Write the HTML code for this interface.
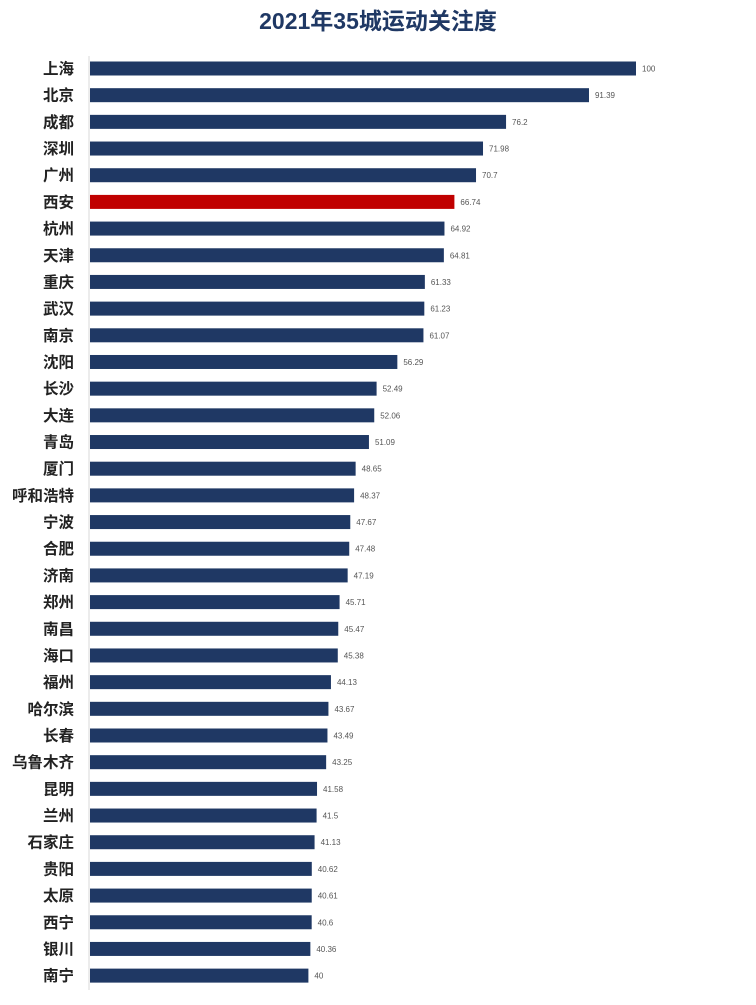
<!DOCTYPE html>
<html><head><meta charset="utf-8"><style>
body{margin:0;background:#fff;width:756px;height:1000px;overflow:hidden}
svg{font-family:"Liberation Sans","Noto Sans CJK SC",sans-serif}
</style></head><body>
<svg id="chart" width="756" height="1000">
<text x="378" y="29" text-anchor="middle" font-size="23" font-weight="bold" fill="#1f3864">2021年35城运动关注度</text>
<line x1="89" y1="56" x2="89" y2="990" stroke="#d9d9d9" stroke-width="1"/>
<g id="bars"></g>
</svg>
<script>
const categories=["上海","北京","成都","深圳","广州","西安","杭州","天津","重庆","武汉","南京","沈阳","长沙","大连","青岛","厦门","呼和浩特","宁波","合肥","济南","郑州","南昌","海口","福州","哈尔滨","长春","乌鲁木齐","昆明","兰州","石家庄","贵阳","太原","西宁","银川","南宁"];
const values=[100,91.39,76.2,71.98,70.7,66.74,64.92,64.81,61.33,61.23,61.07,56.29,52.49,52.06,51.09,48.65,48.37,47.67,47.48,47.19,45.71,45.47,45.38,44.13,43.67,43.49,43.25,41.58,41.5,41.13,40.62,40.61,40.6,40.36,40];
const valueLabels=["100","91.39","76.2","71.98","70.7","66.74","64.92","64.81","61.33","61.23","61.07","56.29","52.49","52.06","51.09","48.65","48.37","47.67","47.48","47.19","45.71","45.47","45.38","44.13","43.67","43.49","43.25","41.58","41.5","41.13","40.62","40.61","40.6","40.36","40"];
const highlight="西安";
const x0=90, xScale=v=>x0+v*5.46;
const yC=i=>68.5+i*26.68;
const g=document.getElementById('bars');
const NS="http://www.w3.org/2000/svg";
categories.forEach((c,i)=>{
  const y=yC(i);
  const t=document.createElementNS(NS,'text');
  t.setAttribute('x',74);t.setAttribute('y',y+5.5);t.setAttribute('text-anchor','end');
  t.setAttribute('font-size','15.5');t.setAttribute('font-weight','bold');t.setAttribute('fill','#222');
  t.textContent=c;
  
  
  g.appendChild(t);
  const r=document.createElementNS(NS,'rect');
  r.setAttribute('x',x0);r.setAttribute('y',y-7);r.setAttribute('height',14);
  r.setAttribute('width',xScale(values[i])-x0);
  r.setAttribute('fill',c===highlight?'#c00000':'#1f3864');
  
  
  g.appendChild(r);
  const v=document.createElementNS(NS,'text');
  v.setAttribute('x',xScale(values[i])+6);v.setAttribute('y',y+3);
  v.setAttribute('font-size','8');v.setAttribute('fill','#555');
  v.textContent=valueLabels[i];
  
  
  g.appendChild(v);
});
</script>
</body></html>
